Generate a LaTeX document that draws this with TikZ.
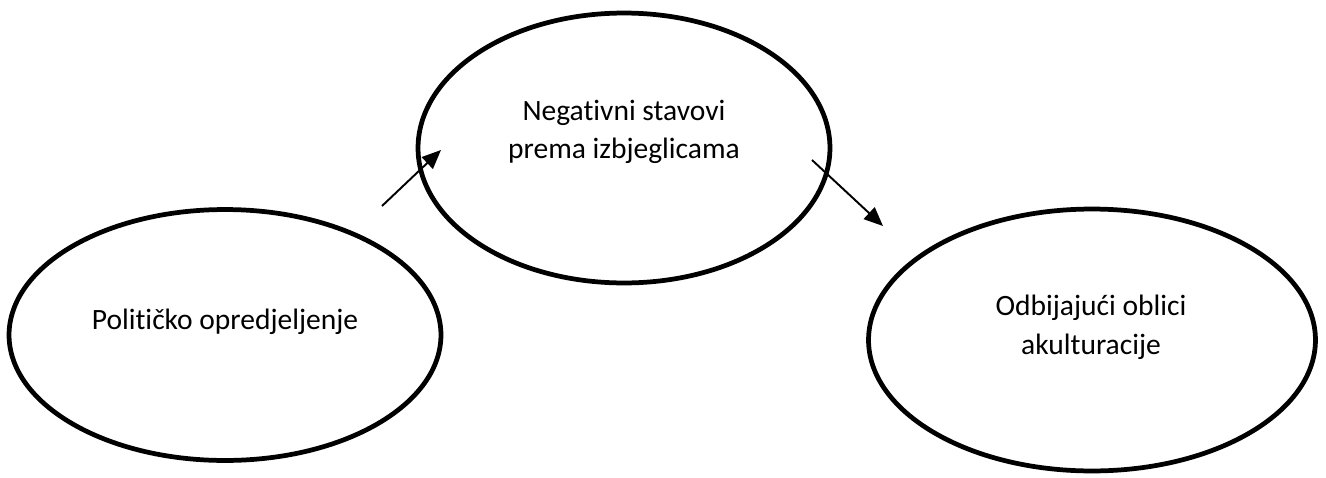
\documentclass[tikz,border=0pt]{standalone}
\usepackage{fontspec}
\setmainfont[Ligatures=NoCommon]{Carlito}
\usetikzlibrary{shapes.geometric,positioning,arrows.meta}

\begin{document}
\begin{tikzpicture}[x=0.02cm, y=-0.02cm,
   oval/.style={draw, ellipse, line width=2.7pt, inner sep=0pt},
   lbl/.style={align=center, font=\fontsize{16.8}{22}\selectfont},
   arr/.style={-{Triangle[length=0.38cm,width=0.32cm]}, line width=1.1pt}]
   \useasboundingbox (0,0) rectangle (1326,477);
   % ellipses
   \node[oval, minimum width=8.64cm, minimum height=5.02cm] (pol) at (225,335) {};
   \node[oval, minimum width=8.24cm, minimum height=5.40cm] (neg) at (624,148) {};
   \node[oval, minimum width=8.94cm, minimum height=5.24cm] (akul) at (1092,340) {};
   % texts
   \node[lbl] (pol_t) at (225,322) {Političko opredjeljenje};
   \node[lbl] (neg_t) at (624,132) {Negativni stavovi\\prema izbjeglicama};
   \node[lbl] (akul_t) at (1091,327) {Odbijajući oblici\\akulturacije};
   % arrows
   \coordinate (a_0) at (382,206);
   \coordinate (a_1) at (441,150);
   \coordinate (b_0) at (812,160);
   \coordinate (b_1) at (883,226);
   \draw[arr] (a_0) -- (a_1);
   \draw[arr] (b_0) -- (b_1);
\end{tikzpicture}
\end{document}
